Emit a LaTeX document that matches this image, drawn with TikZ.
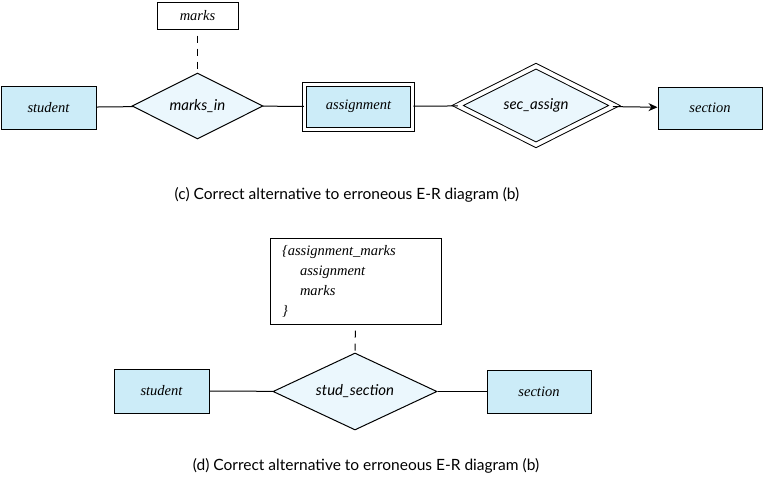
\documentclass[tikz,border=0pt]{standalone}
\usepackage{fontspec}
\setmainfont{Liberation Serif}
\newfontfamily\entfont{Liberation Serif}
\newfontfamily\relfont{Lato}
\usetikzlibrary{shapes.geometric,arrows.meta}
\definecolor{entblue}{RGB}{204,236,248}
\definecolor{relblue}{RGB}{235,247,253}
\begin{document}
\begin{tikzpicture}[x=1pt,y=-1pt,line width=1pt,
        entity/.style={draw,fill=entblue,inner sep=0pt,font=\entfont\fontsize{14.5}{16}\selectfont\itshape},
        rel/.style={draw,diamond,aspect=2,fill=relblue,inner sep=0pt,font=\relfont\fontsize{15}{17}\selectfont\itshape},
        attr/.style={draw,fill=white,inner sep=0pt,font=\entfont\fontsize{14.5}{16}\selectfont\itshape},
        attrline/.style={dashed,dash pattern=on 7pt off 6pt,dash phase=7pt},
        caption/.style={font=\relfont\fontsize{15.5}{18}\selectfont}]
    \useasboundingbox(0,0)rectangle(764,482);
    % (c)
    \node[entity,minimum width=95pt,minimum height=43pt](student1)at(48.5,107.5){student};
    \node[attr,minimum width=81pt,minimum height=27pt](marks)at(197.5,15.5){marks};
    \node[rel,minimum width=131pt,minimum height=66pt](marksin)at(197.5,106){marks\_in};
    \node[entity,double,double distance=3pt,minimum width=108.5pt,minimum height=45pt](assignment)at(358.5,106.5){assignment};
    \node[rel,double,double distance=4pt,minimum width=157pt,minimum height=79pt](secassign)at(536,105.5){sec\_assign};
    \node[entity,minimum width=104pt,minimum height=42pt](section1)at(710,108){section};
    \draw(student1)--(marksin);
    \draw(marksin)--(assignment);
    \draw(assignment)--(secassign);
    \draw[-{Stealth[length=9pt,width=8pt]}](secassign)--(section1);
    \draw[attrline](marks)--(marksin);
    \node[caption](capc)at(347,195){(c) Correct alternative to erroneous E-R diagram (b)};
    % (d)
    \node[attr,minimum width=171pt,minimum height=86pt,text width=147pt,align=left,
        font=\entfont\fontsize{14.5}{20}\selectfont\itshape](marksattr)at(355.5,281)
        {\{assignment\_marks\\\hspace*{18pt}assignment\\\hspace*{18pt}marks\\\}};
    \node[rel,aspect=2.13,minimum width=164pt,minimum height=77pt](studsection)at(355,391.5){stud\_section};
    \node[entity,minimum width=95pt,minimum height=44pt](student2)at(161.5,391){student};
    \node[entity,minimum width=104pt,minimum height=43pt](section2)at(539,391.5){section};
    \draw(student2)--(studsection);
    \draw(studsection)--(section2);
    \draw[attrline](marksattr)--(studsection);
    \node[caption](capd)at(366,466){(d) Correct alternative to erroneous E-R diagram (b)};
\end{tikzpicture}
\end{document}
